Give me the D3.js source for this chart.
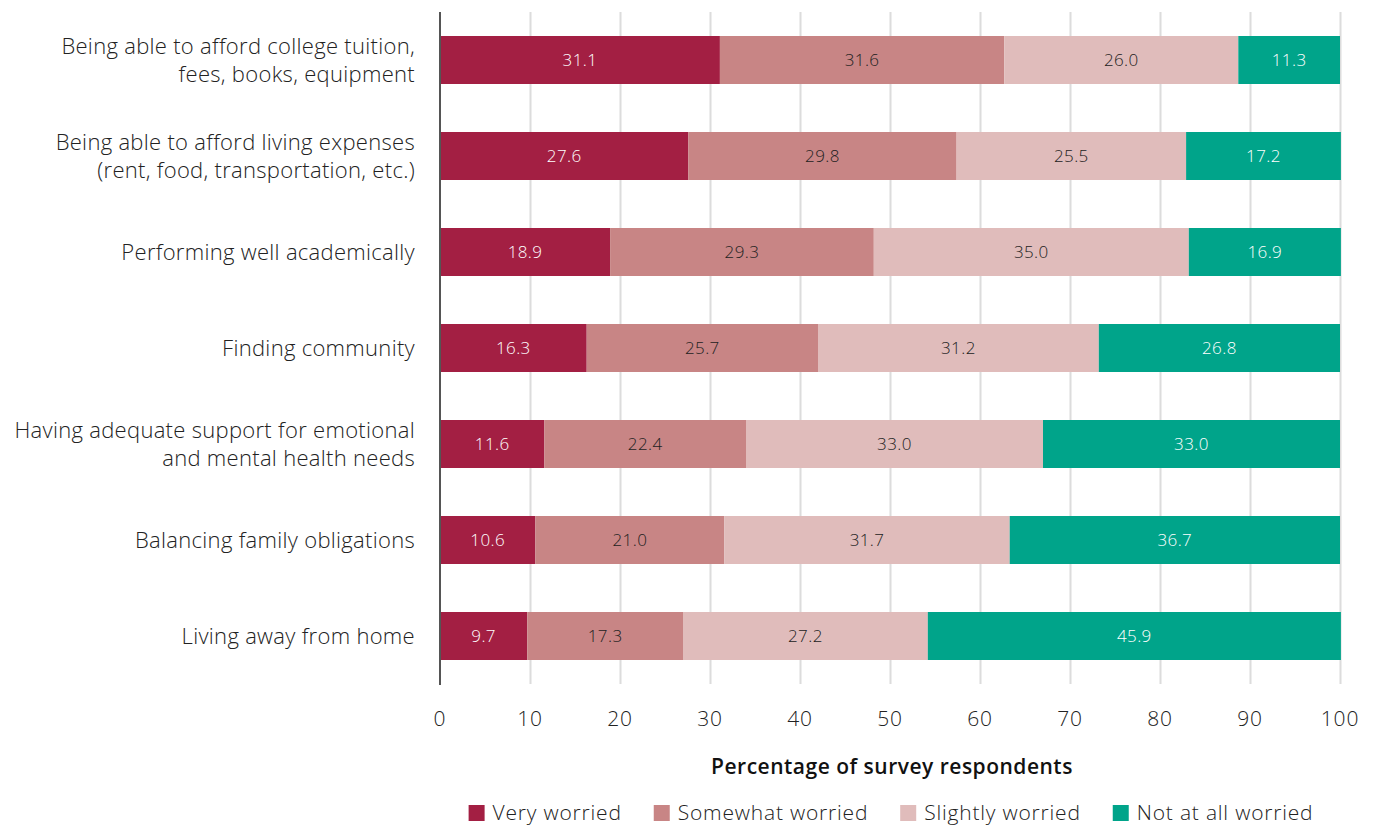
<!DOCTYPE html>
<html>
<head>
<meta charset="utf-8">
<script src="https://cdn.jsdelivr.net/npm/d3@7"></script>
<style>
  body { margin: 0; background: #fff; }
  svg { font-family: "Open Sans", "Noto Sans", sans-serif; }
  .grid line { stroke: #dcdcdc; stroke-width: 2; }
  .grid path { display: none; }
</style>
</head>
<body>
<svg id="chart" width="1374" height="827"></svg>
<script>
const categories = [
  ["Being able to afford college tuition,", "fees, books, equipment"],
  ["Being able to afford living expenses", "(rent, food, transportation, etc.)"],
  ["Performing well academically"],
  ["Finding community"],
  ["Having adequate support for emotional", "and mental health needs"],
  ["Balancing family obligations"],
  ["Living away from home"]
];
const seriesNames = ["Very worried", "Somewhat worried", "Slightly worried", "Not at all worried"];
const veryWorried = [31.1, 27.6, 18.9, 16.3, 11.6, 10.6, 9.7];
const somewhatWorried = [31.6, 29.8, 29.3, 25.7, 22.4, 21.0, 17.3];
const slightlyWorried = [26.0, 25.5, 35.0, 31.2, 33.0, 31.7, 27.2];
const notAtAll = [11.3, 17.2, 16.9, 26.8, 33.0, 36.7, 45.9];
const xTicks = [0, 10, 20, 30, 40, 50, 60, 70, 80, 90, 100];

const colors = ["#a31f43", "#c88585", "#e0bcbb", "#00a48a"];
const labelColors = ["#fff", "#222", "#222", "#fff"];

const margin = { top: 12, left: 440, right: 34, bottom: 143 };
const W = 1374, H = 827;
const width = W - margin.left - margin.right;
const height = H - margin.top - margin.bottom;

const svg = d3.select("#chart");
const g = svg.append("g").attr("transform", `translate(${margin.left},${margin.top})`);

const x = d3.scaleLinear().domain([0, 100]).range([0, width]);
const y = d3.scaleBand()
  .domain(d3.range(categories.length))
  .range([0, height])
  .paddingInner(0.5)
  .paddingOuter(0.25);

// gridlines
g.append("g")
  .attr("class", "grid")
  .attr("transform", `translate(0,${height})`)
  .call(d3.axisBottom(x).tickValues(xTicks.slice(1)).tickSize(-height).tickFormat(""));

// stacked rows
const rows = categories.map((c, i) => ({
  i,
  vals: [veryWorried[i], somewhatWorried[i], slightlyWorried[i], notAtAll[i]]
}));

rows.forEach(r => {
  let acc = 0;
  r.vals.forEach((v, k) => {
    const x0 = acc;
    acc += v;
    g.append("rect")
      .attr("x", x(x0))
      .attr("y", y(r.i))
      .attr("width", x(acc) - x(x0))
      .attr("height", y.bandwidth())
      .attr("fill", colors[k]);
    g.append("text")
      .attr("x", x(x0 + v / 2))
      .attr("y", y(r.i) + y.bandwidth() / 2)
      .attr("dy", "0.35em")
      .attr("text-anchor", "middle")
      .attr("fill", labelColors[k])
      .style("font-size", "17px")
      .style("font-weight", 300)
      .style("letter-spacing", "0.4px")
      .text(v.toFixed(1));
  });
});

// left axis line
g.append("line")
  .attr("x1", 0).attr("x2", 0)
  .attr("y1", 0).attr("y2", height + 1)
  .attr("stroke", "#555")
  .attr("stroke-width", 2);

// category labels
categories.forEach((lines, i) => {
  const cy = y(i) + y.bandwidth() / 2;
  const t = g.append("text")
    .attr("text-anchor", "end")
    .attr("fill", "#222")
    .style("font-size", "22px")
    .style("font-weight", 300)
    .style("letter-spacing", "0.3px");
  lines.forEach((ln, j) => {
    t.append("tspan")
      .attr("x", -25)
      .attr("y", cy + (j - (lines.length - 1) / 2) * 28)
      .attr("dy", "0.35em")
      .text(ln);
  });
});

// x tick labels
g.selectAll(".xlab")
  .data(xTicks)
  .join("text")
  .attr("x", d => x(d))
  .attr("y", height + 35)
  .attr("dy", "0.35em")
  .attr("text-anchor", "middle")
  .attr("fill", "#222")
  .style("font-size", "21px")
  .style("font-weight", 300)
  .style("letter-spacing", "0.8px")
  .text(d => d);

// axis title
g.append("text")
  .attr("x", width / 2 + 2)
  .attr("y", height + 83)
  .attr("dy", "0.35em")
  .attr("text-anchor", "middle")
  .attr("fill", "#111")
  .style("font-size", "21px")
  .style("font-weight", 600)
  .style("letter-spacing", "0.5px")
  .text("Percentage of survey respondents");

// legend, laid out from measured text widths
const legend = svg.append("g");
const items = seriesNames.map((s, k) => {
  const it = legend.append("g");
  it.append("rect")
    .attr("y", 805)
    .attr("width", 16)
    .attr("height", 16)
    .attr("fill", colors[k]);
  const t = it.append("text")
    .attr("x", 24)
    .attr("y", 813)
    .attr("dy", "0.35em")
    .attr("fill", "#222")
    .style("font-size", "21px")
    .style("font-weight", 300)
    .style("letter-spacing", "0.8px")
    .text(s);
  return { it, w: 24 + t.node().getComputedTextLength() };
});
const gap = 32;
const total = d3.sum(items, d => d.w) + gap * (items.length - 1);
let lx = 891 - total / 2;
items.forEach(d => {
  d.it.attr("transform", `translate(${lx},0)`);
  lx += d.w + gap;
});
</script>
</body>
</html>
